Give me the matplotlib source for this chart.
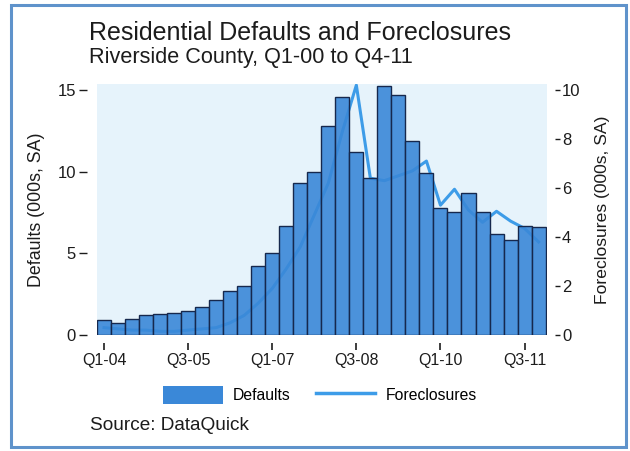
import matplotlib
matplotlib.use("Agg")
import matplotlib.pyplot as plt
from matplotlib.patches import Rectangle, Patch
from matplotlib.lines import Line2D
import numpy as np

plt.rcParams['font.family'] = ['Liberation Sans', 'DejaVu Sans']

quarters = [f"Q{q}-{y:02d}" for y in range(4, 12) for q in range(1, 5)]
defaults = [0.92, 0.71, 1.0, 1.2, 1.27, 1.35, 1.49, 1.71,
            2.14, 2.69, 3.0, 4.25, 5.0, 6.7, 9.3, 9.96,
            12.8, 14.55, 11.2, 9.6, 15.25, 14.7, 11.9, 9.9,
            7.8, 7.55, 8.68, 7.55, 6.2, 5.8, 6.7, 6.6]
foreclosures = [0.3, 0.25, 0.2, 0.2, 0.15, 0.15, 0.2, 0.25,
                0.3, 0.5, 0.8, 1.3, 1.9, 2.7, 3.6, 4.9,
                6.2, 8.3, 10.2, 6.4, 6.3, 6.5, 6.7, 7.1,
                5.3, 5.95, 5.1, 4.6, 5.05, 4.65, 4.35, 3.8]
tick_labels = ["Q1-04", "Q3-05", "Q1-07", "Q3-08", "Q1-10", "Q3-11"]

BAR = '#3a88d8'
LINE = '#3d9ce8'
TXT = '#1c1c1c'
PX = 72 / 100  # points per pixel at dpi 100

fig = plt.figure(figsize=(6.30, 4.51), dpi=100)
fig.patch.set_facecolor('white')

# frame border
fig.patches.append(Rectangle((11/630, 1-447/451), (626-11)/630, (447-5)/451,
                             transform=fig.transFigure, fill=False,
                             edgecolor='#5f93cb', linewidth=2.2))

ax = fig.add_axes([97/630, 1-335/451, (547-97)/630, (335-84)/451])
x = np.arange(len(quarters))
ymax = 15.37
ax2 = ax.twinx()
ax2.set_ylim(0, ymax * 2 / 3)
ax.set_zorder(ax2.get_zorder() + 1)

# plot-area background on the lower axes, line kept behind the bars
ax2.patch.set_visible(True)
ax2.patch.set_facecolor('#e6f3fb')
ax.patch.set_alpha(0.0)
ax2.plot(x, foreclosures, color=LINE, linewidth=2.2, zorder=1)
ax.bar(x, defaults, width=1.0, facecolor=(0.227, 0.533, 0.847, 0.9),
       edgecolor='#16284d', linewidth=1.0, zorder=2)

ax.set_xlim(-0.5, 31.6)
ax.set_ylim(0, ymax)
ax.set_yticks([0, 5, 10, 15])
ax.set_yticklabels(['0', '5', '10', '15'])
tick_idx = [quarters.index(t) for t in tick_labels]
ax.set_xticks(tick_idx)
ax.set_xticklabels(tick_labels)
for s in ax.spines.values():
    s.set_visible(False)
for s in ax2.spines.values():
    s.set_visible(False)
ax.spines['bottom'].set_position(('outward', 8 * PX))
ax.spines['left'].set_position(('outward', 10 * PX))
ax.tick_params(axis='x', direction='out', length=7 * PX, width=1.2, pad=3 * PX,
               labelsize=11.5, colors=TXT)
ax.tick_params(axis='y', direction='out', length=8 * PX, width=1.0, pad=3 * PX,
               labelsize=12, colors=TXT)
ax.set_ylabel('Defaults (000s, SA)', fontsize=12.8, color=TXT)
ax.yaxis.set_label_coords((45 - 97) / 450, 0.5)

ax2.set_yticks([0, 2, 4, 6, 8, 10])
ax2.spines['right'].set_position(('outward', 8 * PX))
ax2.tick_params(axis='y', direction='out', length=5 * PX, width=1.0, pad=2 * PX,
                labelsize=12, colors=TXT)
ax2.set_ylabel('Foreclosures (000s, SA)', fontsize=12.6, color=TXT)
ax2.yaxis.set_label_coords((595 - 97) / 450, 0.5)

fig.text(89/630, 1-33/451, 'Residential Defaults and Foreclosures', fontsize=18,
         ha='left', va='center', color=TXT)
fig.text(89/630, 1-58/451, 'Riverside County, Q1-00 to Q4-11', fontsize=15.6,
         ha='left', va='center', color=TXT)
fig.text(90/630, 1-425/451, 'Source: DataQuick', fontsize=13.7,
         ha='left', va='center', color=TXT)

handles = [Patch(facecolor=BAR, edgecolor='none'),
           Line2D([0], [0], color=LINE, linewidth=2.5)]
fig.legend(handles, ['Defaults', 'Foreclosures'], loc='center',
           bbox_to_anchor=(320/630, 1-395/451), ncol=2, frameon=False,
           handlelength=3.8, handleheight=1.4, columnspacing=1.6, handletextpad=0.65,
           fontsize=11.3)

fig.savefig('out.png', dpi=100, facecolor='white')
